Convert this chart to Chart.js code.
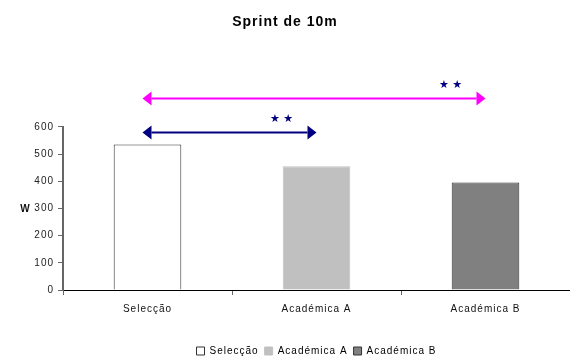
<!DOCTYPE html>
<html>
<head>
<meta charset="utf-8">
<script src="https://cdn.jsdelivr.net/npm/chart.js@4/dist/chart.umd.min.js"></script>
<style>
  html, body { margin: 0; padding: 0; background: #fff; }
  #wrap { width: 570px; height: 358px; position: relative; }
</style>
</head>
<body>
<div id="wrap"><canvas id="c" width="570" height="358"></canvas></div>
<script>
// ---- data ----
const categories = ['Selecção', 'Académica A', 'Académica B'];
const values = [535, 455, 395];
const yTicks = [0, 100, 200, 300, 400, 500, 600];
// significance comparisons (category index from -> to, level on W scale)
const compFrom = [0, 0];
const compTo = [2, 1];
const compLevel = [707, 582];
const compLabel = ['★ ★', '★ ★'];

const fillColors = ['#ffffff', '#c0c0c0', '#808080'];
const borderColors = ['#333333', '#c0c0c0', '#333333'];
const arrowColors = ['#ff00ff', '#000080'];

const FONT = "'Liberation Sans', Arial, sans-serif";

const spacingPlugin = {
  id: 'spacing',
  beforeLayout(chart) { chart.ctx.letterSpacing = '1px'; },
  beforeDraw(chart) { chart.ctx.letterSpacing = '1px'; }
};

const arrowPlugin = {
  id: 'arrows',
  afterDatasetsDraw(chart) {
    const ctx = chart.ctx;
    const xs = chart.scales.x, ys = chart.scales.y;
    ctx.save();
    ctx.letterSpacing = '0px';
    for (let i = 0; i < compFrom.length; i++) {
      const x1 = xs.getPixelForValue(compFrom[i]) - 5;
      const x2 = xs.getPixelForValue(compTo[i]);
      const y = Math.round(ys.getPixelForValue(compLevel[i])) + 0.5;
      const col = arrowColors[i];
      const hl = 9, hh = 7;
      ctx.strokeStyle = col; ctx.fillStyle = col; ctx.lineWidth = 2;
      ctx.beginPath(); ctx.moveTo(x1 + hl, y); ctx.lineTo(x2 - hl, y); ctx.stroke();
      ctx.beginPath(); ctx.moveTo(x1, y); ctx.lineTo(x1 + hl, y - hh); ctx.lineTo(x1 + hl, y + hh); ctx.closePath(); ctx.fill();
      ctx.beginPath(); ctx.moveTo(x2, y); ctx.lineTo(x2 - hl, y - hh); ctx.lineTo(x2 - hl, y + hh); ctx.closePath(); ctx.fill();
      ctx.fillStyle = '#000080';
      ctx.font = "11px 'DejaVu Sans', sans-serif";
      ctx.textAlign = 'center'; ctx.textBaseline = 'middle';
      ctx.fillText(compLabel[i], xs.getPixelForValue(compTo[i]) - 35, y - 13);
    }
    // y axis title "W" (horizontal)
    ctx.fillStyle = '#111';
    ctx.font = "bold 10px " + FONT;
    ctx.textAlign = 'center'; ctx.textBaseline = 'middle';
    ctx.fillText('W', 25, (chart.chartArea.top + chart.chartArea.bottom) / 2 + 1);
    ctx.restore();
  }
};

new Chart(document.getElementById('c'), {
  type: 'bar',
  data: {
    labels: categories,
    datasets: [{
      data: values,
      backgroundColor: fillColors,
      borderColor: borderColors,
      borderWidth: 1,
      categoryPercentage: 1,
      barPercentage: 0.4
    }]
  },
  options: {
    responsive: false,
    animation: false,
    devicePixelRatio: 1,
    layout: { padding: { left: 0, right: 0, top: 0, bottom: -8 } },
    plugins: {
      title: {
        display: true,
        text: 'Sprint de 10m',
        color: '#000',
        font: { family: FONT, size: 14, weight: 'bold' },
        padding: { top: 14, bottom: 96 }
      },
      legend: {
        display: true,
        position: 'bottom',
        fullSize: false,
        labels: {
          color: '#111',
          font: { family: FONT, size: 10 },
          boxWidth: 8,
          boxHeight: 8,
          padding: 6,
          generateLabels: () => categories.map((c, i) => ({
            text: c,
            fillStyle: fillColors[i],
            strokeStyle: borderColors[i],
            lineWidth: 1,
            hidden: false,
            index: i
          }))
        }
      },
      tooltip: { enabled: false }
    },
    scales: {
      x: {
        grid: { display: true, drawOnChartArea: false, drawTicks: true, tickLength: 5, color: '#666', offset: true },
        border: { display: true, color: '#000', width: 1 },
        ticks: { color: '#111', font: { family: FONT, size: 10 }, padding: 8, maxRotation: 0 },
        afterFit: (s) => { s.height = 50; }
      },
      y: {
        min: 0, max: 600,
        afterBuildTicks: (s) => { s.ticks = yTicks.map(v => ({ value: v })); },
        grid: { display: true, drawOnChartArea: false, drawTicks: true, tickLength: 5, color: '#666' },
        border: { display: true, color: '#666', width: 2 },
        ticks: { color: '#222', font: { family: FONT, size: 10 }, padding: 4 },
        afterFit: (s) => { s.width = 63; }
      }
    }
  },
  plugins: [spacingPlugin, arrowPlugin]
});
</script>
</body>
</html>
